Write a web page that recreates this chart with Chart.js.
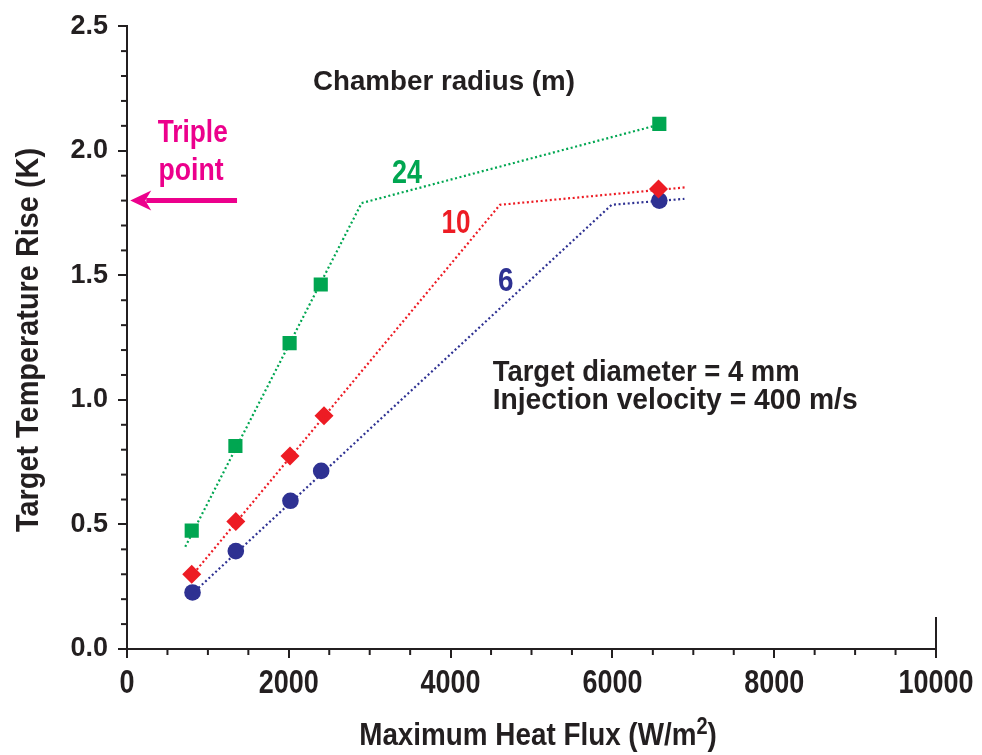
<!DOCTYPE html>
<html>
<head>
<meta charset="utf-8">
<script src="https://cdn.jsdelivr.net/npm/chart.js@4.4.1/dist/chart.umd.min.js"></script>
<style>
  html, body { margin: 0; padding: 0; background: #ffffff; }
  #wrap { width: 982px; height: 755px; position: relative; }
</style>
</head>
<body>
<div id="wrap"><canvas id="c" width="982" height="755"></canvas></div>
<script>
// ---- data ----
const radii = ['24', '10', '6'];
const flux24 = [800, 1340, 2010, 2395, 6580];
const rise24 = [0.475, 0.815, 1.228, 1.463, 2.108];
const flux10 = [800, 1345, 2015, 2435, 6570];
const rise10 = [0.300, 0.512, 0.775, 0.936, 1.847];
const flux6 = [810, 1345, 2020, 2400, 6580];
const rise6 = [0.227, 0.393, 0.595, 0.715, 1.800];
// dotted trend lines
const fit24X = [720, 2900, 6580];
const fit24Y = [0.410, 1.790, 2.105];
const fit10X = [790, 4610, 6900];
const fit10Y = [0.290, 1.783, 1.853];
const fit6X = [800, 5990, 6890];
const fit6Y = [0.220, 1.783, 1.807];
const triplePoint = 1.8;
const xTicks = [0, 2000, 4000, 6000, 8000, 10000];
const yTicks = [0.0, 0.5, 1.0, 1.5, 2.0, 2.5];

const GREEN = '#00A651', RED = '#ED1C24', BLUE = '#2E3192', MAGENTA = '#EC008C', INK = '#231F20';
const SANS = '"Liberation Sans", Arial, sans-serif';

function pts(xs, ys) { return xs.map((x, i) => ({ x: x, y: ys[i] })); }

const lineStyle = (c) => ({ showLine: true, borderColor: c, borderWidth: 2.2, borderDash: [2, 2.6], pointRadius: 0, fill: false, tension: 0 });

const datasets = [
  Object.assign({ label: 'fit ' + radii[0], data: pts(fit24X, fit24Y) }, lineStyle(GREEN)),
  Object.assign({ label: 'fit ' + radii[1], data: pts(fit10X, fit10Y) }, lineStyle(RED)),
  Object.assign({ label: 'fit ' + radii[2], data: pts(fit6X, fit6Y) }, lineStyle(BLUE)),
  { label: radii[0], data: pts(flux24, rise24), showLine: false, pointStyle: 'rect', pointRadius: 10, backgroundColor: GREEN, borderWidth: 0 },
  { label: radii[1], data: pts(flux10, rise10), showLine: false, pointStyle: 'rectRot', pointRadius: 9.5, backgroundColor: RED, borderWidth: 0 },
  { label: radii[2], data: pts(flux6, rise6), showLine: false, pointStyle: 'circle', pointRadius: 8.3, backgroundColor: BLUE, borderWidth: 0 }
];

// draw condensed text: font size sets the height, target width sets the horizontal squeeze
function fitText(ctx, text, x, y, size, width, align) {
  ctx.save();
  ctx.font = 'bold ' + size + 'px ' + SANS;
  const w = ctx.measureText(text).width;
  const k = width ? width / w : 0.82;
  ctx.translate(x, y); ctx.scale(k, 1);
  ctx.textAlign = align || 'left';
  ctx.fillText(text, 0, 0);
  ctx.restore();
  return w * k;
}

const decor = {
  id: 'decor',
  afterDraw(chart) {
    const ctx = chart.ctx, xs = chart.scales.x, ys = chart.scales.y;
    const X = v => xs.getPixelForValue(v), Y = v => ys.getPixelForValue(v);
    ctx.save();
    ctx.textBaseline = 'alphabetic';
    // minor ticks
    ctx.strokeStyle = INK; ctx.lineWidth = 2;
    for (let i = 1; i < 25; i++) {
      if (i % 5 === 0) continue;
      const y = Y(i / 10);
      ctx.beginPath(); ctx.moveTo(xs.left - 6, y); ctx.lineTo(xs.left, y); ctx.stroke();
    }
    for (let i = 1; i < 20; i++) {
      if (i % 4 === 0) continue;
      const x = X(i * 500);
      ctx.beginPath(); ctx.moveTo(x, ys.bottom); ctx.lineTo(x, ys.bottom + 6); ctx.stroke();
    }
    // short upright at the right end of the x axis
    ctx.beginPath(); ctx.moveTo(X(10000), ys.bottom); ctx.lineTo(X(10000), ys.bottom - 32); ctx.stroke();
    // x tick labels (condensed)
    ctx.fillStyle = INK;
    ctx.font = 'bold 33px ' + SANS;
    const kx = 60 / ctx.measureText('2000').width;
    xTicks.forEach(v => {
      const s = String(v);
      ctx.font = 'bold 33px ' + SANS;
      fitText(ctx, s, X(v), ys.bottom + 44, 33, ctx.measureText(s).width * kx, 'center');
    });
    // text
    ctx.fillStyle = INK;
    fitText(ctx, 'Chamber radius (m)', X(3918), Y(2.243), 28, 262, 'center');
    fitText(ctx, 'Target diameter = 4 mm', X(4520), Y(1.076), 30, 307, 'left');
    fitText(ctx, 'Injection velocity = 400 m/s', X(4520), Y(0.964), 30, 365, 'left');
    // curve labels
    ctx.fillStyle = GREEN; fitText(ctx, radii[0], X(3460), Y(1.869), 33, 30, 'center');
    ctx.fillStyle = RED; fitText(ctx, radii[1], X(4067), Y(1.669), 33, 29, 'center');
    ctx.fillStyle = BLUE; fitText(ctx, radii[2], X(4681), Y(1.436), 33, 15.5, 'center');
    // triple point
    ctx.fillStyle = MAGENTA;
    fitText(ctx, 'Triple', X(380), Y(2.036), 31, 70, 'left');
    fitText(ctx, 'point', X(390), Y(1.884), 31, 65, 'left');
    const ay = Y(triplePoint), tip = X(40), tail = X(1360);
    ctx.strokeStyle = MAGENTA; ctx.lineWidth = 5;
    ctx.beginPath(); ctx.moveTo(tip + 16, ay); ctx.lineTo(tail, ay); ctx.stroke();
    ctx.beginPath();
    ctx.moveTo(tip, ay); ctx.lineTo(tip + 21, ay - 10); ctx.lineTo(tip + 15, ay); ctx.lineTo(tip + 21, ay + 10); ctx.closePath(); ctx.fill();
    // x axis title with superscript
    ctx.fillStyle = INK;
    const k = 0.87;
    ctx.font = 'bold 32px ' + SANS;
    const t1 = 'Maximum Heat Flux (W/m';
    const w1 = ctx.measureText(t1).width * k, w3 = ctx.measureText(')').width * k;
    ctx.font = 'bold 23px ' + SANS;
    const w2 = ctx.measureText('2').width * k;
    const total = w1 + w2 + w3;
    const sx = 538 - total / 2, by = 745;
    fitText(ctx, t1, sx, by, 32, w1, 'left');
    fitText(ctx, '2', sx + w1, by - 11, 23, w2, 'left');
    fitText(ctx, ')', sx + w1 + w2, by, 32, w3, 'left');
    // y axis title
    ctx.save();
    ctx.translate(38, 340); ctx.rotate(-Math.PI / 2);
    fitText(ctx, 'Target Temperature Rise (K)', 0, 0, 32, 384, 'center');
    ctx.restore();
    ctx.restore();
  }
};

new Chart(document.getElementById('c'), {
  type: 'scatter',
  data: { datasets: datasets },
  options: {
    responsive: false, animation: false, devicePixelRatio: 1,
    layout: { padding: { top: 23, right: 46, left: 0, bottom: 0 } },
    plugins: { legend: { display: false }, tooltip: { enabled: false } },
    scales: {
      x: {
        type: 'linear', min: 0, max: 10000,
        afterBuildTicks: s => { s.ticks = xTicks.map(v => ({ value: v })); },
        afterFit: s => { s.height = 106; },
        ticks: { display: false },
        grid: { drawOnChartArea: false, drawTicks: true, tickLength: 9, color: INK, lineWidth: 2 },
        border: { display: true, color: INK, width: 2 }
      },
      y: {
        type: 'linear', min: 0, max: 2.5,
        afterBuildTicks: s => { s.ticks = yTicks.map(v => ({ value: v })); },
        afterFit: s => { s.width = 127; },
        ticks: { callback: v => Number(v).toFixed(1), color: INK, font: { family: SANS, weight: 'bold', size: 27 }, padding: 10, autoSkip: false },
        grid: { drawOnChartArea: false, drawTicks: true, tickLength: 9, color: INK, lineWidth: 2 },
        border: { display: true, color: INK, width: 2 }
      }
    }
  },
  plugins: [decor]
});
</script>
</body>
</html>
